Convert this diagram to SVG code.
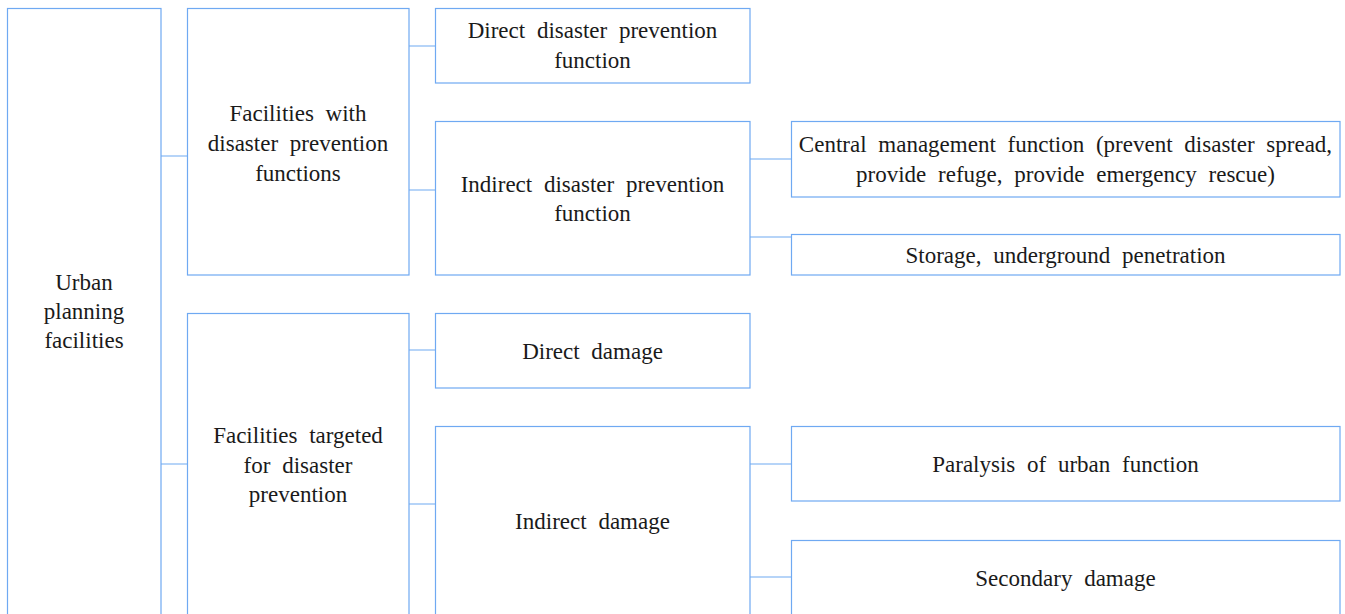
<svg xmlns="http://www.w3.org/2000/svg" width="1345" height="614" viewBox="0 0 1345 614">
<style>
.box{fill:#ffffff;stroke:#6fa9f2;stroke-width:1.2}
.conn{stroke:#6fa9f2;stroke-width:1.2;fill:none}
.t{font-family:'Liberation Serif','DejaVu Serif','Times New Roman',serif;font-size:23px;fill:#1a1a1a;text-anchor:middle;word-spacing:6px}
</style>
<rect width="1345" height="614" fill="#ffffff"/>
<g id="connectors">
<path class="conn" d="M161 156H187M161 464H187M409 46H435M409 190H435M750 159H791M750 237H791M409 350H435M409 504H435M750 464H791M750 577H791"/>
</g>
<g class="t" font-family="Liberation Serif, DejaVu Serif, serif">
<g id="n-urban"><rect class="box" x="7.5" y="8.5" width="153.5" height="620"/>
<text x="84" y="290">Urban</text><text x="84" y="319">planning</text><text x="84" y="348">facilities</text></g>
<g id="n-with"><rect class="box" x="187.5" y="8.5" width="221.5" height="266.5"/>
<text x="298" y="121">Facilities with</text><text x="298" y="151">disaster prevention</text><text x="298" y="180.5">functions</text></g>
<g id="n-direct-fn"><rect class="box" x="435.5" y="8.5" width="314.5" height="74.5"/>
<text x="592.5" y="38">Direct disaster prevention</text><text x="592.5" y="68">function</text></g>
<g id="n-indirect-fn"><rect class="box" x="435.5" y="121.5" width="314.5" height="153.5"/>
<text x="592.5" y="192">Indirect disaster prevention</text><text x="592.5" y="221">function</text></g>
<g id="n-central"><rect class="box" x="791.5" y="121.5" width="548.5" height="75.5"/>
<text x="1065.5" y="152">Central management function (prevent disaster spread,</text><text x="1065.5" y="182">provide refuge, provide emergency rescue)</text></g>
<g id="n-storage"><rect class="box" x="791.5" y="234.5" width="548.5" height="40.5"/>
<text x="1065.5" y="263">Storage, underground penetration</text></g>
<g id="n-targeted"><rect class="box" x="187.5" y="313.5" width="221.5" height="320"/>
<text x="298" y="443">Facilities targeted</text><text x="298" y="472.5">for disaster</text><text x="298" y="501.5">prevention</text></g>
<g id="n-direct-dmg"><rect class="box" x="435.5" y="313.5" width="314.5" height="74.5"/>
<text x="592.5" y="359">Direct damage</text></g>
<g id="n-indirect-dmg"><rect class="box" x="435.5" y="426.5" width="314.5" height="220"/>
<text x="592.5" y="529">Indirect damage</text></g>
<g id="n-paralysis"><rect class="box" x="791.5" y="426.5" width="548.5" height="74.5"/>
<text x="1065.5" y="472">Paralysis of urban function</text></g>
<g id="n-secondary"><rect class="box" x="791.5" y="540.5" width="548.5" height="120"/>
<text x="1065.5" y="586">Secondary damage</text></g>
</g>
</svg>
